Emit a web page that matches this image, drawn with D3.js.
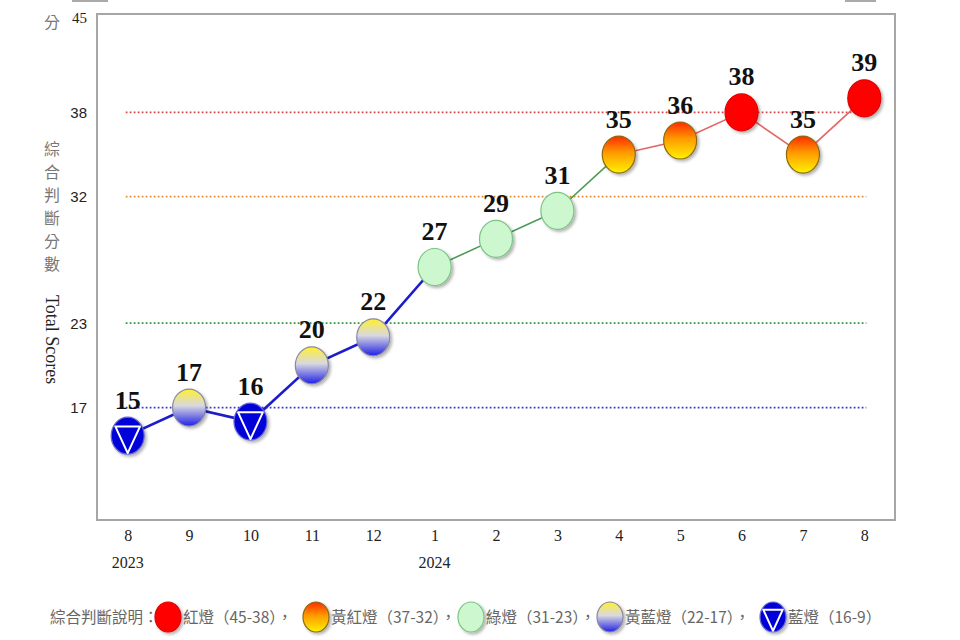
<!DOCTYPE html>
<html>
<head>
<meta charset="utf-8">
<script src="https://cdn.jsdelivr.net/npm/d3@7"></script>
<style>
  body { margin: 0; background: #fff; }
  svg { display: block; }
</style>
</head>
<body>
<div id="chart"></div>
<script>
(function () {
    // data
    const months = ["8", "9", "10", "11", "12", "1", "2", "3", "4", "5", "6", "7", "8"];
    const years = ["2023", "", "", "", "", "2024", "", "", "", "", "", "", ""];
    const scores = [15, 17, 16, 20, 22, 27, 29, 31, 35, 36, 38, 35, 39];
    const lights = ["blue", "yellowblue", "blue", "yellowblue", "yellowblue", "green", "green", "green", "yellowred", "yellowred", "red", "yellowred", "red"];
    const yTicks = [17, 23, 32, 38, 45];
    const refLines = [38, 32, 23, 17];
    const refColors = ["#d84a4a", "#e0902e", "#2f9a3a", "#3a3ac8"];
    const legendLabels = ["紅燈（45-38）", "黃紅燈（37-32）", "綠燈（31-23）", "黃藍燈（22-17）", "藍燈（16-9）"];
    const legendLights = ["red", "yellowred", "green", "yellowblue", "blue"];

    const width = 960, height = 640;
    const left = 97, right = 895, top = 14, bottom = 520;

    const svg = d3.select("#chart").append("svg").attr("width", width).attr("height", height);
    const defs = svg.append("defs");

    // gradients for the light markers
    const grYR = defs.append("linearGradient").attr("id", "gYR").attr("x1", 0).attr("y1", 0).attr("x2", 0).attr("y2", 1);
    grYR.append("stop").attr("offset", "0%").attr("stop-color", "#ff2a00");
    grYR.append("stop").attr("offset", "45%").attr("stop-color", "#ff9a00");
    grYR.append("stop").attr("offset", "100%").attr("stop-color", "#fff200");
    const grYB = defs.append("linearGradient").attr("id", "gYB").attr("x1", 0).attr("y1", 0).attr("x2", 0).attr("y2", 1);
    grYB.append("stop").attr("offset", "0%").attr("stop-color", "#fff030");
    grYB.append("stop").attr("offset", "45%").attr("stop-color", "#d8d8e0");
    grYB.append("stop").attr("offset", "100%").attr("stop-color", "#2020e8");
    const shadow = defs.append("filter").attr("id", "sh").attr("x", "-30%").attr("y", "-30%").attr("width", "160%").attr("height", "160%");
    shadow.append("feDropShadow").attr("dx", 2).attr("dy", 2).attr("stdDeviation", 1.5).attr("flood-color", "#000").attr("flood-opacity", 0.3);

    const x = d3.scalePoint().domain(d3.range(months.length)).range([left, right]).padding(0.5);
    const y = d3.scaleLinear().domain([9, 45]).range([bottom, top]);

    // small bars cut off at the top edge
    svg.append("line").attr("x1", 72).attr("x2", 108).attr("y1", 1).attr("y2", 1).attr("stroke", "#aaa").attr("stroke-width", 2);
    svg.append("line").attr("x1", 845).attr("x2", 876).attr("y1", 1).attr("y2", 1).attr("stroke", "#aaa").attr("stroke-width", 2);

    // frame
    svg.append("rect").attr("x", left).attr("y", top).attr("width", right - left).attr("height", bottom - top)
        .attr("fill", "none").attr("stroke", "#a6a6a6").attr("stroke-width", 2);

    // dotted threshold lines
    svg.append("g").selectAll("line").data(refLines).join("line")
        .attr("x1", x(0) - 2).attr("x2", x(months.length - 1) + 2)
        .attr("y1", d => y(d)).attr("y2", d => y(d))
        .attr("stroke", (d, i) => refColors[i]).attr("stroke-width", 1.8)
        .attr("stroke-dasharray", "1.8,2.2");

    // y axis
    const yAxis = svg.append("g").attr("transform", `translate(${left - 10},0)`)
        .call(d3.axisLeft(y).tickValues(yTicks).tickSize(0).tickPadding(0));
    yAxis.select(".domain").remove();
    yAxis.selectAll("text").attr("font-family", d => d === 45 ? "Liberation Serif" : "Liberation Sans")
        .attr("font-size", 15).attr("fill", "#222");
    yAxis.selectAll(".tick").filter(d => d === 45).select("text").attr("dy", "0.55em");

    // x axis
    const xAxis = svg.append("g").attr("transform", `translate(0,${bottom + 10})`)
        .call(d3.axisBottom(x).tickSize(0).tickPadding(0).tickFormat(i => months[i]));
    xAxis.select(".domain").remove();
    xAxis.selectAll("text").attr("font-family", "Liberation Serif").attr("font-size", 16).attr("fill", "#222");
    svg.append("g").selectAll("text").data(years).join("text")
        .attr("x", (d, i) => x(i)).attr("y", 568).attr("text-anchor", "middle")
        .attr("font-family", "Liberation Serif").attr("font-size", 16).attr("fill", "#222")
        .text(d => d);

    // axis titles
    svg.append("text").attr("x", 52).attr("y", 28).attr("text-anchor", "middle")
        .attr("font-family", "Noto Sans CJK TC").attr("font-size", 16).attr("fill", "#777").text("分");
    svg.append("g").selectAll("text").data("綜合判斷分數".split("")).join("text")
        .attr("x", 52).attr("y", (d, i) => 155 + i * 23).attr("text-anchor", "middle")
        .attr("font-family", "Noto Sans CJK TC").attr("font-size", 16).attr("fill", "#777").text(d => d);
    svg.append("text").attr("transform", "translate(46,295) rotate(90)")
        .attr("font-family", "Liberation Serif").attr("font-size", 18).attr("fill", "#222").text("Total Scores");

    // connecting line segments, coloured by the starting light
    const segColor = { blue: "#1c1ccc", yellowblue: "#1c1ccc", green: "#4c9a55", yellowred: "#e46464", red: "#e46464" };
    const segWidth = { blue: 2.6, yellowblue: 2.6, green: 1.6, yellowred: 1.6, red: 1.6 };
    svg.append("g").selectAll("line").data(d3.range(scores.length - 1)).join("line")
        .attr("x1", i => x(i)).attr("y1", i => y(scores[i]))
        .attr("x2", i => x(i + 1)).attr("y2", i => y(scores[i + 1]))
        .attr("stroke", i => segColor[lights[i]]).attr("stroke-width", i => segWidth[lights[i]]);

    function drawLight(g, kind, rx, ry) {
        const fills = { red: "#ff0000", yellowred: "url(#gYR)", green: "#cdf7cf", yellowblue: "url(#gYB)", blue: "#0505d8" };
        const strokes = { red: "#e00000", yellowred: "#8a6a10", green: "#7cc484", yellowblue: "#8888a0", blue: "#6a6ad0" };
        g.append("ellipse").attr("rx", rx).attr("ry", ry)
            .attr("fill", fills[kind]).attr("stroke", strokes[kind]).attr("stroke-width", 1.2);
        if (kind === "blue") {
            const s = rx / 16;
            g.append("path")
                .attr("d", `M${-12 * s},${-9 * s}L${12 * s},${-9 * s}L0,${17 * s}Z`)
                .attr("fill", "none").attr("stroke", "#fff").attr("stroke-width", 2).attr("stroke-linejoin", "round");
        }
    }

    // markers
    const pts = svg.append("g").selectAll("g").data(d3.range(scores.length)).join("g")
        .attr("transform", i => `translate(${x(i)},${y(scores[i])})`)
        .attr("filter", "url(#sh)");
    pts.each(function (i) { drawLight(d3.select(this), lights[i], 16.5, 18.5); });

    // value labels
    svg.append("g").selectAll("text").data(d3.range(scores.length)).join("text")
        .attr("x", i => x(i)).attr("y", i => y(scores[i]) - 27).attr("text-anchor", "middle")
        .attr("font-family", "Liberation Serif").attr("font-weight", "bold").attr("font-size", 26).attr("fill", "#111")
        .text(i => scores[i]);

    // legend
    const legend = svg.append("g").attr("transform", "translate(0,617)");
    legend.append("text").attr("x", 50).attr("y", 6)
        .attr("font-family", "Noto Sans CJK TC").attr("font-size", 15.5).attr("fill", "#666").text("綜合判斷說明：");
    const legX = [168, 316, 471, 610, 773];
    legendLights.forEach((kind, i) => {
        const g = legend.append("g").attr("transform", `translate(${legX[i]},0)`);
        drawLight(g.append("g").attr("filter", "url(#sh)"), kind, 13, 15);
        g.append("text").attr("x", 15).attr("y", 6)
            .attr("font-family", "Noto Sans CJK TC").attr("font-size", 15.5).attr("fill", "#666")
            .text(legendLabels[i] + (i < legendLabels.length - 1 ? "，" : ""));
    });
})();
</script>
</body>
</html>
